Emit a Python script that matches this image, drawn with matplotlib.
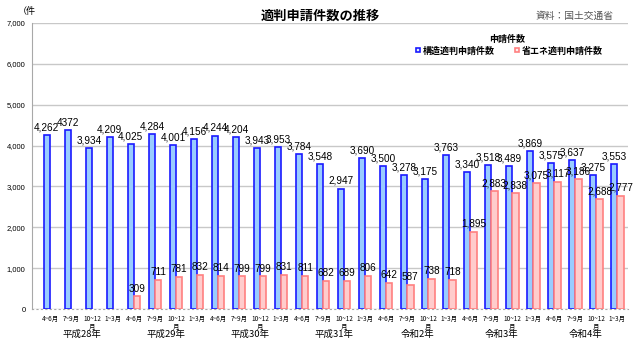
import matplotlib
matplotlib.use('Agg')
import matplotlib.pyplot as plt
from matplotlib.lines import Line2D
from matplotlib.transforms import blended_transform_factory
import numpy as np

plt.rcParams['font.family'] = ['Noto Sans CJK JP', 'DejaVu Sans']

# ---------------- data ----------------
quarter_labels = ['4~6月', '7~9月', '10~12\n月', '1~3月'] * 7
year_labels = ['平成28年', '平成29年', '平成30年', '平成31年', '令和2年', '令和3年', '令和4年']

structural = [4262, 4372, 3934, 4209, 4025, 4284, 4001, 4156, 4244, 4204,
              3943, 3953, 3784, 3548, 2947, 3690, 3500, 3278, 3175, 3763,
              3340, 3518, 3489, 3869, 3575, 3637, 3275, 3553]
structural_text = ['4,262', '4372', '3,934', '4,209', '4,025', '4,284', '4,001',
                   '4,156', '4,244', '4,204', '3,943', '3,953', '3,784', '3,548',
                   '2,947', '3,690', '3,500', '3,278', '3,175', '3,763', '3,340',
                   '3,518', '3,489', '3,869', '3,575', '3,637', '3,275', '3,553']

energy_start = 4
energy = [309, 711, 781, 832, 814, 799, 799, 831, 811, 682, 689, 806, 642,
          587, 738, 718, 1895, 2883, 2838, 3075, 3117, 3186, 2688, 2777]

y_ticks = [0, 1000, 2000, 3000, 4000, 5000, 6000, 7000]

# ---------------- figure ----------------
fig = plt.figure(figsize=(6.4, 3.47), dpi=100)
ax = fig.add_axes([0.0505, 0.1095, 0.9305, 0.8245])

num_font = ['Liberation Sans Narrow', 'Liberation Sans', 'DejaVu Sans']

x = np.arange(len(structural))
w = 0.3
xe = np.arange(energy_start, energy_start + len(energy))

b1 = ax.bar(x - w / 2, structural, width=w, color='#99ccff', edgecolor='#1a1aff',
            linewidth=1.2, zorder=3)
b2 = ax.bar(xe + w / 2, energy, width=w, color='#ffcccc', edgecolor='#ff8080',
            linewidth=1.2, zorder=3)

ax.bar_label(b1, labels=structural_text, padding=2, fontsize=7.2,
             family=num_font, zorder=5)
ax.bar_label(b2, labels=[f'{v:,}' for v in energy], padding=2, fontsize=7.2,
             family=num_font, zorder=5)

ax.set_ylim(0, 7000)
ax.set_xlim(-0.84, 27.5)
ax.set_yticks(y_ticks)
ax.set_yticklabels([f'{v:,}' for v in y_ticks], fontsize=5.5, family=num_font)
ax.tick_params(axis='y', length=0, pad=5)
ax.set_xticks(x)
ax.set_xticklabels(quarter_labels, fontsize=4.6, linespacing=1.0)
ax.tick_params(axis='x', length=0, pad=4)

ax.yaxis.grid(True, color='#c8c8c8', linewidth=1.0, zorder=0)
ax.set_axisbelow(True)
for s in ['top', 'right']:
    ax.spines[s].set_visible(False)
ax.spines['left'].set_color('#a8a8a8')
ax.spines['bottom'].set_color('#a8a8a8')
ax.spines['bottom'].set_linestyle((0, (1, 3)))

# year group labels
trans = blended_transform_factory(ax.transData, ax.transAxes)
for i, yl in enumerate(year_labels):
    ax.text(4 * i + 1.5, -0.088, yl, transform=trans, ha='center', va='center',
            fontsize=6.8)

# titles / annotations
fig.text(0.5, 0.955, '適判申請件数の推移', ha='center', va='center',
         fontsize=9.5, fontweight='bold')
fig.text(0.958, 0.955, '資料：国土交通省', ha='right', va='center',
         fontsize=7, color='#555555')
fig.text(0.028, 0.968, '（件', ha='left', va='center', fontsize=6.5)

# legend
fig.text(0.792, 0.888, '申請件数', ha='center', va='center', fontsize=6.5,
         fontweight='bold')
handles = [Line2D([], [], marker='s', linestyle='none', markersize=3.5,
                  markerfacecolor='#ddeeff', markeredgecolor='#1a1aff', markeredgewidth=1.2),
           Line2D([], [], marker='s', linestyle='none', markersize=3.5,
                  markerfacecolor='#ffeeee', markeredgecolor='#ff8080', markeredgewidth=1.2)]
leg = fig.legend(handles, ['構造適判申請件数', '省エネ適判申請件数'], ncol=2,
                 loc='center', bbox_to_anchor=(0.795, 0.853), frameon=False,
                 handlelength=0.6, handletextpad=0.2,
                 columnspacing=2.2, prop={'weight': 'bold', 'size': 6.5})

fig.savefig('out.png', dpi=100)
